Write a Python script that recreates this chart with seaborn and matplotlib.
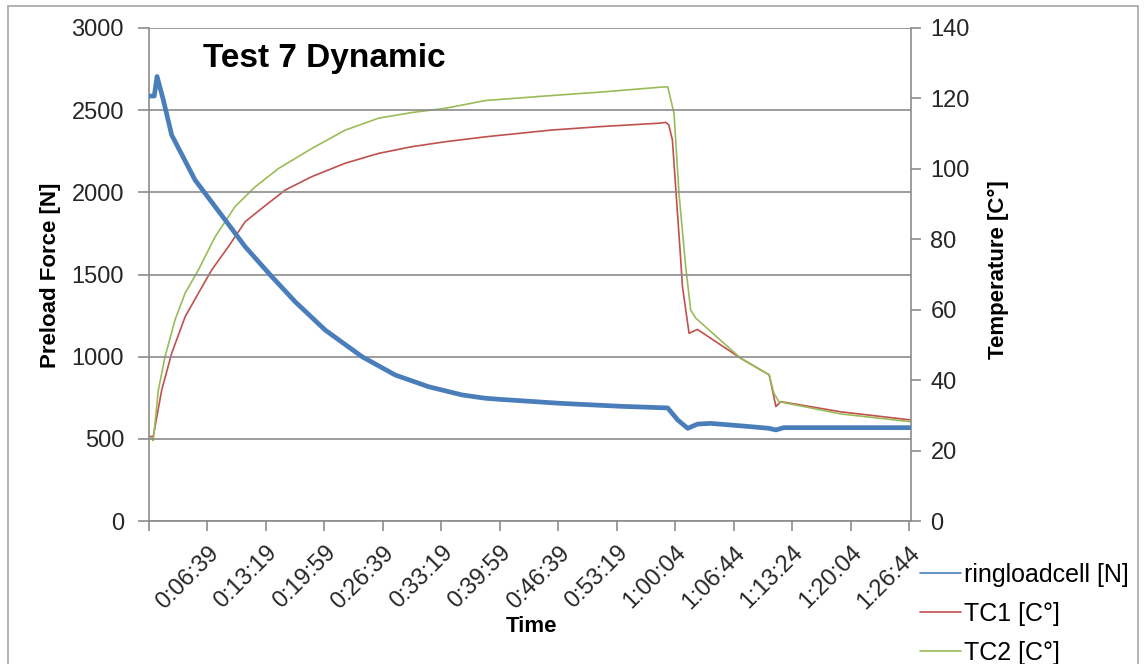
import matplotlib
matplotlib.use("Agg")
import matplotlib.pyplot as plt
from matplotlib.patches import Rectangle
from matplotlib.lines import Line2D
import seaborn as sns
import pandas as pd

# Elapsed time in seconds and measured values
load_t = [0, 36, 55, 98, 155, 315, 521, 658, 840, 1000, 1205, 1457, 1685,
          1913, 2142, 2301, 2404, 2815, 3226, 3548, 3616, 3685, 3753, 3842,
          4116, 4240, 4288, 4342, 4801, 5210]
load_n = [2586, 2586, 2705, 2562, 2349, 2075, 1832, 1669, 1487, 1334, 1162,
          1000, 888, 817, 767, 747, 740, 716, 698, 688, 615, 564, 590, 594,
          574, 564, 554, 568, 568, 568]

tc1_t = [0, 29, 87, 155, 247, 338, 429, 543, 658, 772, 932, 1114, 1342, 1571,
         1799, 2027, 2301, 2747, 3089, 3500, 3534, 3555, 3580, 3637, 3649,
         3694, 3751, 4048, 4242, 4288, 4322, 4733, 5210]
tc1_c = [24.0, 24.0, 37.2, 47.6, 58.0, 64.7, 71.3, 77.9, 85.0, 88.8, 94.0,
         97.8, 101.6, 104.4, 106.3, 107.7, 109.1, 111.0, 112.0, 113.0, 113.2,
         112.5, 108.2, 74.1, 66.5, 53.3, 54.4, 46.2, 41.5, 32.5, 33.9, 31.0,
         28.7]

tc2_t = [0, 22, 29, 64, 110, 178, 247, 338, 452, 589, 726, 886, 1114, 1342,
         1571, 1799, 2027, 2301, 2747, 3089, 3500, 3548, 3591, 3625, 3671,
         3705, 3740, 4048, 4242, 4274, 4308, 4733, 5210]
tc2_c = [23.5, 23.5, 22.8, 37.2, 46.7, 57.1, 64.7, 71.3, 80.7, 89.3, 94.9,
         100.1, 105.8, 111.0, 114.4, 116.0, 117.2, 119.4, 120.8, 121.8, 123.2,
         123.3, 115.8, 93.1, 72.2, 59.9, 57.6, 46.2, 41.5, 36.3, 33.9, 30.4,
         28.2]

time_ticks = list(range(0, 5201, 400))
time_labels = ["", "0:06:39", "0:13:19", "0:19:59", "0:26:39", "0:33:19",
               "0:39:59", "0:46:39", "0:53:19", "1:00:04", "1:06:44",
               "1:13:24", "1:20:04", "1:26:44"]

series_names = ["ringloadcell [N]", "TC1 [C°]", "TC2 [C°]"]
series_colors = ["#4A7EBB", "#C0504D", "#9BBB59"]

sns.set_theme(style="white")
plt.rcParams["font.family"] = ["Liberation Sans", "DejaVu Sans"]
plt.rcParams["text.color"] = "black"

fig = plt.figure(figsize=(11.44, 6.64), dpi=100)
ax = fig.add_axes([149 / 1144, 1 - 521 / 664, (911 - 149) / 1144, (521 - 28) / 664])
ax2 = ax.twinx()

grid_c = "#8C8C8C"

sns.lineplot(data=pd.DataFrame({"t": load_t, "v": load_n}), x="t", y="v",
             ax=ax, color=series_colors[0], linewidth=3.4, zorder=3)
sns.lineplot(data=pd.DataFrame({"t": tc1_t, "v": tc1_c}), x="t", y="v",
             ax=ax2, color=series_colors[1], linewidth=1.2)
sns.lineplot(data=pd.DataFrame({"t": tc2_t, "v": tc2_c}), x="t", y="v",
             ax=ax2, color=series_colors[2], linewidth=1.2)

ax.set_xlim(0, 5212)
ax.set_ylim(0, 3000)
ax2.set_ylim(0, 140)
ax.set_yticks(range(0, 3001, 500))
ax2.set_yticks(range(0, 141, 20))
ax.set_xticks(time_ticks)
ax.set_xticklabels(time_labels, rotation=45, ha="right", rotation_mode="anchor")
ax.set_xlabel("")
ax.set_ylabel("")
ax2.set_ylabel("")

ax.yaxis.grid(True, color=grid_c, linewidth=1.2)
ax.xaxis.grid(False)
ax2.grid(False)
ax.set_zorder(ax2.get_zorder() + 1)
ax.patch.set_visible(False)

for a in (ax, ax2):
    for side in ("left", "right", "bottom", "top"):
        a.spines[side].set_visible(False)
ax.spines["left"].set_visible(True)
ax.spines["bottom"].set_visible(True)
ax2.spines["right"].set_visible(True)
for sp in (ax.spines["left"], ax.spines["bottom"], ax2.spines["right"]):
    sp.set_color(grid_c)
    sp.set_linewidth(1.2)

ax.tick_params(axis="y", direction="out", length=8, width=1.2, color=grid_c,
               labelsize=17, pad=10, left=True)
ax.tick_params(axis="x", direction="out", length=7, width=1.2, color=grid_c,
               labelsize=17, pad=8, bottom=True)
ax2.tick_params(axis="y", direction="out", length=7, width=1.2, color=grid_c,
                labelsize=17, pad=7, right=True)

fig.text(203 / 1144, 1 - 59 / 664, "Test 7 Dynamic", fontsize=24,
         fontweight="bold", ha="left", va="center")
fig.text(51 / 1144, 1 - 275 / 664, "Preload Force [N]", fontsize=16,
         fontweight="bold", rotation=90, ha="center", va="center")
fig.text(998 / 1144, 1 - 270 / 664, "Temperature [C°]", fontsize=16,
         fontweight="bold", rotation=90, ha="center", va="center")
fig.text(531 / 1144, 1 - 626 / 664, "Time", fontsize=16,
         fontweight="bold", ha="center", va="center")

handles = [Line2D([], [], color=c, linewidth=1.2) for c in series_colors]
fig.legend(handles, series_names, loc="upper left",
           bbox_to_anchor=(920 / 1144, 1 - 563 / 664), frameon=False,
           fontsize=18, handlelength=1.64, handletextpad=0.12,
           labelspacing=0.6, borderaxespad=0, borderpad=0)

fig.patches.append(Rectangle((8 / 1144, -0.05), (1138 - 8) / 1144,
                             1.05 - 6 / 664, transform=fig.transFigure,
                             fill=False, edgecolor="#A6A6A6", linewidth=1.2))

fig.savefig("out.png", dpi=100)
